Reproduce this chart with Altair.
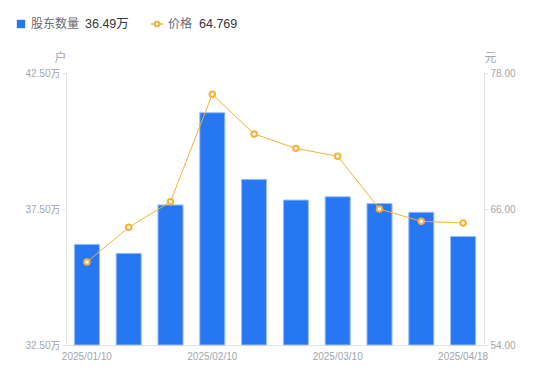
import altair as alt
import pandas as pd

dates = ["2025/01/10", "2025/01/20", "2025/01/27", "2025/02/10", "2025/02/20",
         "2025/02/28", "2025/03/10", "2025/03/20", "2025/03/31", "2025/04/18"]
holders = [36.20, 35.87, 37.65, 41.04, 38.59, 37.83, 37.95, 37.70, 37.38, 36.49]
price = [61.32, 64.38, 66.64, 76.12, 72.62, 71.35, 70.65, 66.00, 64.91, 64.769]
label_dates = ["2025/01/10", "2025/02/10", "2025/03/10", "2025/04/18"]
left_ticks = [32.5, 37.5, 42.5]
right_ticks = [54, 66, 78]

df = pd.DataFrame({"date": dates, "holders": holders, "price": price})

FONT = "Liberation Sans, Noto Sans CJK SC"
GRAY = "#a3a6b0"
AXIS = "#e3e4e8"
BLUE = "#2777f2"
ORANGE = "#f7b035"

xenc = alt.X("date:O", sort=dates, title=None,
             scale=alt.Scale(paddingInner=0.4, paddingOuter=0.2),
             axis=alt.Axis(values=label_dates, labelAngle=0, ticks=False, grid=False,
                           domainColor=AXIS, labelColor=GRAY, labelFontSize=10,
                           labelFont=FONT, labelPadding=6))

bars = alt.Chart(df).mark_bar(color=BLUE, stroke="#9cc0fa", strokeWidth=1).encode(
    x=xenc,
    y=alt.Y("holders:Q", scale=alt.Scale(domain=[32.5, 42.5], zero=False, nice=False),
            axis=alt.Axis(values=left_ticks, labelExpr="format(datum.value, '.2f') + '万'",
                          grid=False, domainColor=AXIS, tickColor=AXIS, tickSize=4,
                          labelColor=GRAY, labelFontSize=10, labelFont=FONT,
                          title="户", titleAngle=0, titleX=-6, titleY=-16,
                          titleAlign="center", titleBaseline="middle", titleColor=GRAY,
                          titleFontWeight="normal", titleFontSize=12, titleFont=FONT)),
    y2=alt.datum(32.5),
)

line = alt.Chart(df).mark_line(color=ORANGE, strokeWidth=1,
                               point=alt.OverlayMarkDef(filled=True, fill="white", stroke=ORANGE,
                                                        strokeWidth=2, size=30)).encode(
    x=alt.X("date:O", sort=dates),
    y=alt.Y("price:Q", scale=alt.Scale(domain=[54, 78], zero=False, nice=False),
            axis=alt.Axis(orient="right", values=right_ticks, format=".2f",
                          grid=False, domainColor=AXIS, tickColor=AXIS, tickSize=4,
                          labelColor=GRAY, labelFontSize=10, labelFont=FONT,
                          title="元", titleAngle=0, titleX=6, titleY=-16,
                          titleAlign="center", titleBaseline="middle", titleColor=GRAY,
                          titleFontWeight="normal", titleFontSize=12, titleFont=FONT)),
)

one = pd.DataFrame({"k": [0]})
leg_sq = alt.Chart(one).mark_square(color=BLUE, size=70, opacity=1).encode(
    x=alt.value(-45), y=alt.value(-49))
leg_t1 = alt.Chart(one).mark_text(text="股东数量", align="left", baseline="middle",
                                  fontSize=12, color="#666a73", font=FONT).encode(
    x=alt.value(-35), y=alt.value(-49))
leg_v1 = alt.Chart(one).mark_text(text=f"{holders[-1]:.2f}万", align="left", baseline="middle",
                                  fontSize=12.5, color="#33363d", font=FONT).encode(
    x=alt.value(19), y=alt.value(-49))
leg_ln = alt.Chart(one).mark_rule(color=ORANGE, strokeWidth=1.5).encode(
    x=alt.value(85), x2=alt.value(97), y=alt.value(-49))
leg_pt = alt.Chart(one).mark_point(filled=True, fill="white", stroke=ORANGE, strokeWidth=2,
                                   size=22, opacity=1).encode(
    x=alt.value(91), y=alt.value(-49))
leg_t2 = alt.Chart(one).mark_text(text="价格", align="left", baseline="middle",
                                  fontSize=12, color="#666a73", font=FONT).encode(
    x=alt.value(102), y=alt.value(-49))
leg_v2 = alt.Chart(one).mark_text(text=f"{price[-1]:.3f}", align="left", baseline="middle",
                                  fontSize=12.5, color="#33363d", font=FONT).encode(
    x=alt.value(133), y=alt.value(-49))

chart = alt.layer(bars, line, leg_sq, leg_t1, leg_v1, leg_ln, leg_pt, leg_t2, leg_v2).resolve_scale(
    y="independent"
).properties(
    width=418, height=272,
    background="white",
    autosize=alt.AutoSizeParams(type="none"),
    padding={"left": 58, "top": 65, "right": 58, "bottom": 30},
).configure_view(stroke=None, strokeWidth=0)

chart.save("out.html", embed_options={"renderer": "svg", "actions": False})
